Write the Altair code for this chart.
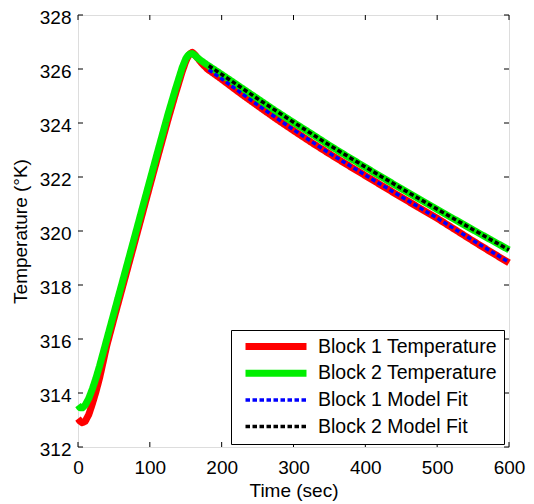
import altair as alt
import pandas as pd

# ---- data ----
series_names = ["Block 1 Temperature", "Block 2 Temperature", "Block 1 Model Fit", "Block 2 Model Fit"]
series_colors = ["#ff0000", "#00ee00", "#0000ff", "#000000"]

t_meas = [0, 3, 6, 10, 15, 20, 25, 30, 40, 50, 60, 75, 90, 100, 110, 125, 135, 145, 150, 153, 156,
          159, 162, 166, 172, 180, 200, 225, 250, 275, 300, 325, 350, 375, 400, 425, 450, 475, 500,
          525, 550, 575, 600]
block1_temp = [313.05, 312.95, 312.9, 312.95, 313.2, 313.6, 314.05, 314.55, 315.75, 316.75, 317.73,
               319.2, 320.68, 321.67, 322.65, 324.1, 325.02, 325.9, 326.28, 326.45, 326.57,
               326.62, 326.55, 326.42, 326.22, 326.0, 325.62, 325.12, 324.64, 324.17, 323.72, 323.28,
               322.86, 322.45, 322.05, 321.65, 321.25, 320.86, 320.47, 320.05, 319.63, 319.22, 318.82]
block2_temp = [313.55, 313.45, 313.45, 313.55, 313.8, 314.15, 314.55, 315.0, 315.98, 316.96, 317.94,
               319.41, 320.89, 321.87, 322.85, 324.3, 325.2, 326.05, 326.38, 326.5, 326.56,
               326.57, 326.52, 326.42, 326.3, 326.15, 325.8, 325.35, 324.9, 324.45, 324.02, 323.6,
               323.17, 322.76, 322.36, 321.96, 321.57, 321.18, 320.8, 320.42, 320.04, 319.67, 319.3]

t_fit = [182, 200, 250, 300, 350, 400, 450, 500, 550, 600]
block1_fit = [325.97, 325.64, 324.67, 323.75, 322.88, 322.07, 321.27, 320.48, 319.65, 318.84]
block2_fit = [326.12, 325.8, 324.9, 324.03, 323.18, 322.37, 321.58, 320.81, 320.05, 319.3]

x_ticks = [0, 100, 200, 300, 400, 500, 600]
y_ticks = [312, 314, 316, 318, 320, 322, 324, 326, 328]

rows = []
for t, v in zip(t_meas, block1_temp):
    rows.append({"time": t, "temp": v, "series": series_names[0]})
for t, v in zip(t_meas, block2_temp):
    rows.append({"time": t, "temp": v, "series": series_names[1]})
for t, v in zip(t_fit, block1_fit):
    rows.append({"time": t, "temp": v, "series": series_names[2]})
for t, v in zip(t_fit, block2_fit):
    rows.append({"time": t, "temp": v, "series": series_names[3]})
df = pd.DataFrame(rows)

FONT = "Liberation Sans"
W, H = 431, 432

xscale = alt.Scale(domain=[0, 600], nice=False, zero=False)
yscale = alt.Scale(domain=[312, 328], nice=False, zero=False)

x_enc = alt.X("time:Q", scale=xscale,
              axis=alt.Axis(values=x_ticks, ticks=False, tickSize=0, domain=False, grid=False,
                            labelFontSize=19, labelFont=FONT, labelColor="black", labelPadding=11,
                            labelFlush=False, title="Time (sec)", titleFont=FONT, titleFontSize=19,
                            titleFontWeight="normal", titleColor="black", titlePadding=4))
y_enc = alt.Y("temp:Q", scale=yscale,
              axis=alt.Axis(values=y_ticks, ticks=False, tickSize=0, domain=False, grid=False,
                            labelFontSize=19, labelFont=FONT, labelColor="black", labelPadding=7,
                            labelOffset=2,
                            title="Temperature (°K)", titleFont=FONT, titleFontSize=19,
                            titleFontWeight="normal", titleColor="black", titlePadding=9))

color_enc = alt.Color("series:N", scale=alt.Scale(domain=series_names, range=series_colors),
                      legend=alt.Legend(title=None, orient="none", legendX=153, legendY=315,
                                        symbolType="stroke", symbolSize=3721, clipHeight=19,
                                        labelFont=FONT, labelFontSize=19.5, labelColor="black",
                                        labelLimit=400, labelOffset=8, rowPadding=6.7,
                                        padding=7, symbolOffset=4,
                                        strokeColor="black", fillColor="white"))
dash_enc = alt.StrokeDash("series:N", scale=alt.Scale(domain=series_names,
                                                      range=[[1, 0], [1, 0], [4.5, 2.5], [4.5, 2.5]]))
width_enc = alt.StrokeWidth("series:N", scale=alt.Scale(type="ordinal", domain=series_names,
                                                        range=[7, 7, 3.5, 3.5]))

base = alt.Chart(df)
layers = []
for name in series_names:
    layers.append(
        base.transform_filter(alt.datum.series == name)
        .mark_line(strokeCap="butt", strokeJoin="round")
        .encode(x=x_enc, y=y_enc, color=color_enc, strokeDash=dash_enc, strokeWidth=width_enc,
                order="time:Q")
    )

xt = pd.DataFrame({"t": x_ticks})
yt = pd.DataFrame({"v": y_ticks})
tick_len = 5
xt_bottom = alt.Chart(xt).mark_rule(color="black", strokeWidth=1).encode(
    x=alt.X("t:Q", scale=xscale), y=alt.value(H), y2=alt.value(H - tick_len))
xt_top = alt.Chart(xt).mark_rule(color="black", strokeWidth=1).encode(
    x=alt.X("t:Q", scale=xscale), y=alt.value(0), y2=alt.value(tick_len))
yt_left = alt.Chart(yt).mark_rule(color="black", strokeWidth=1).encode(
    y=alt.Y("v:Q", scale=yscale), x=alt.value(0), x2=alt.value(tick_len))
yt_right = alt.Chart(yt).mark_rule(color="black", strokeWidth=1).encode(
    y=alt.Y("v:Q", scale=yscale), x=alt.value(W), x2=alt.value(W - tick_len))

chart = alt.layer(*layers, xt_bottom, xt_top, yt_left, yt_right).properties(
    width=W, height=H,
    autosize=alt.AutoSizeParams(type="none"),
    padding={"left": 70, "top": 7, "right": 17, "bottom": 57},
).configure_view(stroke="black", strokeWidth=1).configure(background="white")

chart.save("out.html", embed_options={"renderer": "svg", "actions": False})
